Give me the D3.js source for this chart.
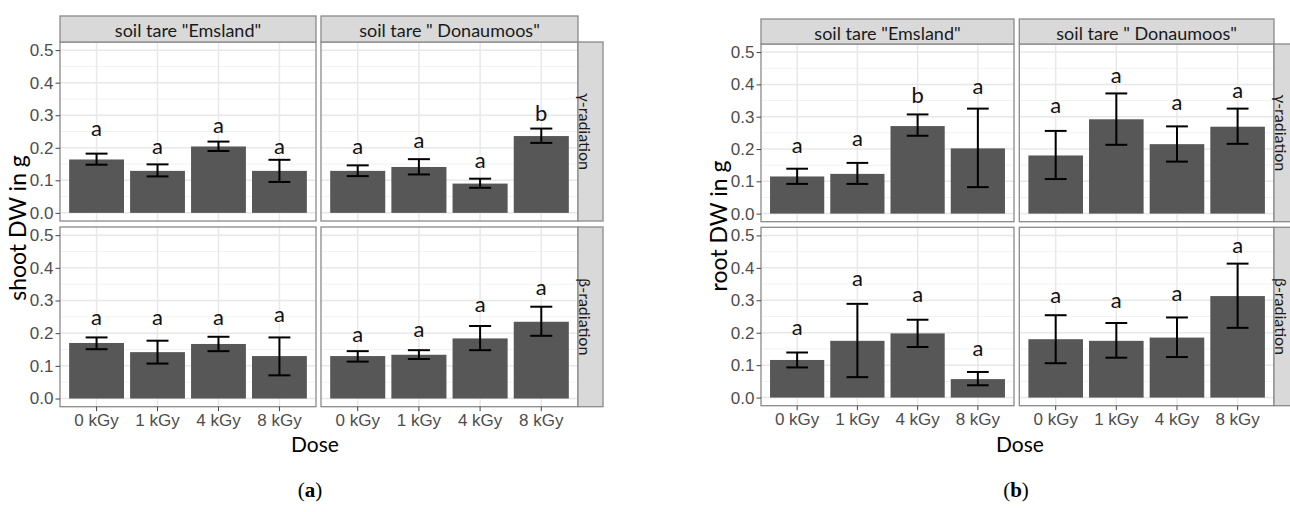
<!DOCTYPE html>
<html>
<head>
<meta charset="utf-8">
<title>Shoot and root DW</title>
<script src="https://cdnjs.cloudflare.com/ajax/libs/d3/7.8.5/d3.min.js"></script>
<style>
  body { margin: 0; background: #fff; }
  svg { display: block; }
</style>
</head>
<body>
<script>
// categories
var doses = ["0 kGy", "1 kGy", "4 kGy", "8 kGy"];
var soils = ['soil tare "Emsland"', 'soil tare " Donaumoos"'];
var radiations = ["\u03b3-radiation", "\u03b2-radiation"];
var yTicks = [0, 0.1, 0.2, 0.3, 0.4, 0.5];
var yMinor = [0.05, 0.15, 0.25, 0.35, 0.45];

// (a) shoot DW in g, [row: gamma, beta][col: Emsland, Donaumoos][dose]
var shootMean = [
  [[0.164, 0.129, 0.204, 0.129], [0.129, 0.141, 0.090, 0.236]],
  [[0.170, 0.142, 0.167, 0.130], [0.130, 0.134, 0.184, 0.235]]
];
var shootLow = [
  [[0.148, 0.112, 0.190, 0.095], [0.113, 0.118, 0.077, 0.215]],
  [[0.151, 0.107, 0.145, 0.071], [0.113, 0.121, 0.148, 0.192]]
];
var shootHigh = [
  [[0.182, 0.149, 0.219, 0.163], [0.146, 0.165, 0.105, 0.259]],
  [[0.187, 0.177, 0.189, 0.187], [0.145, 0.148, 0.222, 0.281]]
];
var shootLetters = [
  [["a", "a", "a", "a"], ["a", "a", "a", "b"]],
  [["a", "a", "a", "a"], ["a", "a", "a", "a"]]
];
var shootLetterY = [
  [[0.237, 0.182, 0.244, 0.182], [0.182, 0.199, 0.138, 0.281]],
  [[0.224, 0.224, 0.224, 0.235], [0.172, 0.189, 0.265, 0.316]]
];

// (b) root DW in g
var rootMean = [
  [[0.115, 0.123, 0.271, 0.202], [0.180, 0.292, 0.215, 0.269]],
  [[0.116, 0.175, 0.198, 0.057], [0.180, 0.175, 0.185, 0.313]]
];
var rootLow = [
  [[0.092, 0.092, 0.241, 0.082], [0.107, 0.213, 0.161, 0.216]],
  [[0.093, 0.063, 0.156, 0.038], [0.106, 0.123, 0.125, 0.215]]
];
var rootHigh = [
  [[0.139, 0.157, 0.307, 0.325], [0.256, 0.372, 0.270, 0.325]],
  [[0.139, 0.289, 0.240, 0.079], [0.254, 0.230, 0.247, 0.413]]
];
var rootLetters = [
  [["a", "a", "b", "a"], ["a", "a", "a", "a"]],
  [["a", "a", "a", "a"], ["a", "a", "a", "a"]]
];
var rootLetterY = [
  [[0.188, 0.208, 0.341, 0.371], [0.311, 0.405, 0.320, 0.358]],
  [[0.194, 0.343, 0.294, 0.128], [0.293, 0.276, 0.298, 0.446]]
];

var svg = d3.select("body").append("svg")
  .attr("width", 1290)
  .attr("height", 512);

var tickFont = "'Liberation Sans', Arial, sans-serif";
var textFont = "Lato, 'Open Sans', sans-serif";
var border = "#8a8a8a";

function drawFacets(cfg) {
  var g = svg.append("g");

  cfg.rows.forEach(function (rowR, r) {
    var y = d3.scaleLinear().domain([-0.025, 0.525]).range([rowR[1], rowR[0]]);

    cfg.cols.forEach(function (colR, c) {
      var x = d3.scaleBand().domain(doses).range(colR)
        .paddingInner(0.1).paddingOuter(0.15);
      var p = g.append("g");

      // background + grid
      p.append("rect")
        .attr("x", colR[0]).attr("y", rowR[0])
        .attr("width", colR[1] - colR[0]).attr("height", rowR[1] - rowR[0])
        .attr("fill", "#fff");
      p.selectAll(".minor").data(yMinor).enter().append("line")
        .attr("x1", colR[0]).attr("x2", colR[1])
        .attr("y1", y).attr("y2", y)
        .attr("stroke", "#f2f2f2").attr("stroke-width", 1);
      p.selectAll(".major").data(yTicks).enter().append("line")
        .attr("x1", colR[0]).attr("x2", colR[1])
        .attr("y1", y).attr("y2", y)
        .attr("stroke", "#e8e8e8").attr("stroke-width", 1.5);
      p.selectAll(".vgrid").data(doses).enter().append("line")
        .attr("x1", function (d) { return x(d) + x.bandwidth() / 2; })
        .attr("x2", function (d) { return x(d) + x.bandwidth() / 2; })
        .attr("y1", rowR[0]).attr("y2", rowR[1])
        .attr("stroke", "#e8e8e8").attr("stroke-width", 1.5);

      var rows = doses.map(function (d, i) {
        return {
          dose: d,
          mean: cfg.mean[r][c][i],
          lo: cfg.low[r][c][i],
          hi: cfg.high[r][c][i],
          letter: cfg.letters[r][c][i],
          ly: cfg.letterY[r][c][i]
        };
      });

      // bars
      p.selectAll(".bar").data(rows).enter().append("rect")
        .attr("x", function (d) { return x(d.dose); })
        .attr("width", x.bandwidth())
        .attr("y", function (d) { return y(d.mean); })
        .attr("height", function (d) { return y(0) - y(d.mean); })
        .attr("fill", "#575757");

      // error bars
      var cap = x.step() * 0.18;
      var eb = p.selectAll(".eb").data(rows).enter().append("g")
        .attr("stroke", "#000").attr("stroke-width", 2).attr("fill", "none");
      eb.append("line")
        .attr("x1", function (d) { return x(d.dose) + x.bandwidth() / 2; })
        .attr("x2", function (d) { return x(d.dose) + x.bandwidth() / 2; })
        .attr("y1", function (d) { return y(d.lo); })
        .attr("y2", function (d) { return y(d.hi); });
      eb.append("line")
        .attr("x1", function (d) { return x(d.dose) + x.bandwidth() / 2 - cap; })
        .attr("x2", function (d) { return x(d.dose) + x.bandwidth() / 2 + cap; })
        .attr("y1", function (d) { return y(d.lo); })
        .attr("y2", function (d) { return y(d.lo); });
      eb.append("line")
        .attr("x1", function (d) { return x(d.dose) + x.bandwidth() / 2 - cap; })
        .attr("x2", function (d) { return x(d.dose) + x.bandwidth() / 2 + cap; })
        .attr("y1", function (d) { return y(d.hi); })
        .attr("y2", function (d) { return y(d.hi); });

      // significance letters
      p.selectAll(".lt").data(rows).enter().append("text")
        .attr("x", function (d) { return x(d.dose) + x.bandwidth() / 2; })
        .attr("y", function (d) { return y(d.ly); })
        .attr("text-anchor", "middle")
        .attr("font-family", textFont).attr("font-size", 22)
        .attr("fill", "#111")
        .text(function (d) { return d.letter; });

      // panel border
      p.append("rect")
        .attr("x", colR[0]).attr("y", rowR[0])
        .attr("width", colR[1] - colR[0]).attr("height", rowR[1] - rowR[0])
        .attr("fill", "none").attr("stroke", border).attr("stroke-width", 1.3);

      // y axis on first column
      if (c === 0) {
        var ya = g.append("g")
          .attr("transform", "translate(" + colR[0] + ",0)")
          .call(d3.axisLeft(y).tickValues(yTicks).tickFormat(d3.format(".1f"))
            .tickSizeInner(4.5).tickSizeOuter(0).tickPadding(2));
        ya.select(".domain").remove();
        ya.selectAll("line").attr("stroke", "#444");
        ya.selectAll("text").attr("font-family", tickFont)
          .attr("font-size", 17).attr("fill", "#4d4d4d");
      }
      // x axis on bottom row
      if (r === cfg.rows.length - 1) {
        var xa = g.append("g")
          .attr("transform", "translate(0," + rowR[1] + ")")
          .call(d3.axisBottom(x).tickSizeInner(4.5).tickSizeOuter(0).tickPadding(3));
        xa.select(".domain").remove();
        xa.selectAll("line").attr("stroke", "#444");
        xa.selectAll("text").attr("font-family", tickFont)
          .attr("font-size", 17).attr("fill", "#4d4d4d");
      }
      // top strips
      if (r === 0) {
        g.append("rect")
          .attr("x", colR[0]).attr("y", cfg.strip[0])
          .attr("width", colR[1] - colR[0]).attr("height", cfg.strip[1] - cfg.strip[0])
          .attr("fill", "#d9d9d9").attr("stroke", border).attr("stroke-width", 1.3);
        g.append("text")
          .attr("x", (colR[0] + colR[1]) / 2)
          .attr("y", (cfg.strip[0] + cfg.strip[1]) / 2 + 1)
          .attr("text-anchor", "middle").attr("dominant-baseline", "central")
          .attr("font-family", textFont).attr("font-size", 18).attr("fill", "#1a1a1a")
          .text(soils[c]);
      }
    });

    // right strip
    var sx = cfg.cols[1][1];
    g.append("rect")
      .attr("x", sx).attr("y", rowR[0])
      .attr("width", 25).attr("height", rowR[1] - rowR[0])
      .attr("fill", "#d9d9d9").attr("stroke", border).attr("stroke-width", 1.3);
    g.append("text")
      .attr("transform", "translate(" + (sx + 7.5) + "," + ((rowR[0] + rowR[1]) / 2) + ") rotate(90)")
      .attr("text-anchor", "middle").attr("dominant-baseline", "central")
      .attr("font-family", textFont).attr("font-size", 16).attr("fill", "#1a1a1a")
      .text(radiations[r]);
  });

  // axis titles
  g.append("text")
    .attr("transform", "translate(" + cfg.yTitle[0] + "," + cfg.yTitle[1] + ") rotate(-90)")
    .attr("text-anchor", "middle")
    .attr("font-family", textFont).attr("font-size", 23).attr("fill", "#000")
    .text(cfg.yLabel);
  g.append("text")
    .attr("x", cfg.xTitle[0]).attr("y", cfg.xTitle[1])
    .attr("text-anchor", "middle")
    .attr("font-family", textFont).attr("font-size", 21).attr("fill", "#000")
    .text("Dose");

  // sub-figure tag
  var tag = g.append("text")
    .attr("x", cfg.tag[0]).attr("y", cfg.tag[1])
    .attr("text-anchor", "middle")
    .attr("font-family", "'Liberation Serif', 'DejaVu Serif', serif")
    .attr("font-size", 21).attr("fill", "#000");
  tag.append("tspan").text("(");
  tag.append("tspan").attr("font-weight", "bold").text(cfg.tagLetter);
  tag.append("tspan").text(")");
}

drawFacets({
  cols: [[60, 316], [321, 578]],
  strip: [16, 42],
  rows: [[42, 221], [227, 406.7]],
  mean: shootMean, low: shootLow, high: shootHigh,
  letters: shootLetters, letterY: shootLetterY,
  yLabel: "shoot DW in g",
  yTitle: [26, 228],
  xTitle: [315, 452],
  tag: [310, 497],
  tagLetter: "a"
});

drawFacets({
  cols: [[761, 1014], [1019.3, 1274]],
  strip: [19, 44],
  rows: [[44, 221.7], [227.3, 405.7]],
  mean: rootMean, low: rootLow, high: rootHigh,
  letters: rootLetters, letterY: rootLetterY,
  yLabel: "root DW in g",
  yTitle: [727, 226],
  xTitle: [1020, 452],
  tag: [1016, 497],
  tagLetter: "b"
});
</script>
</body>
</html>
